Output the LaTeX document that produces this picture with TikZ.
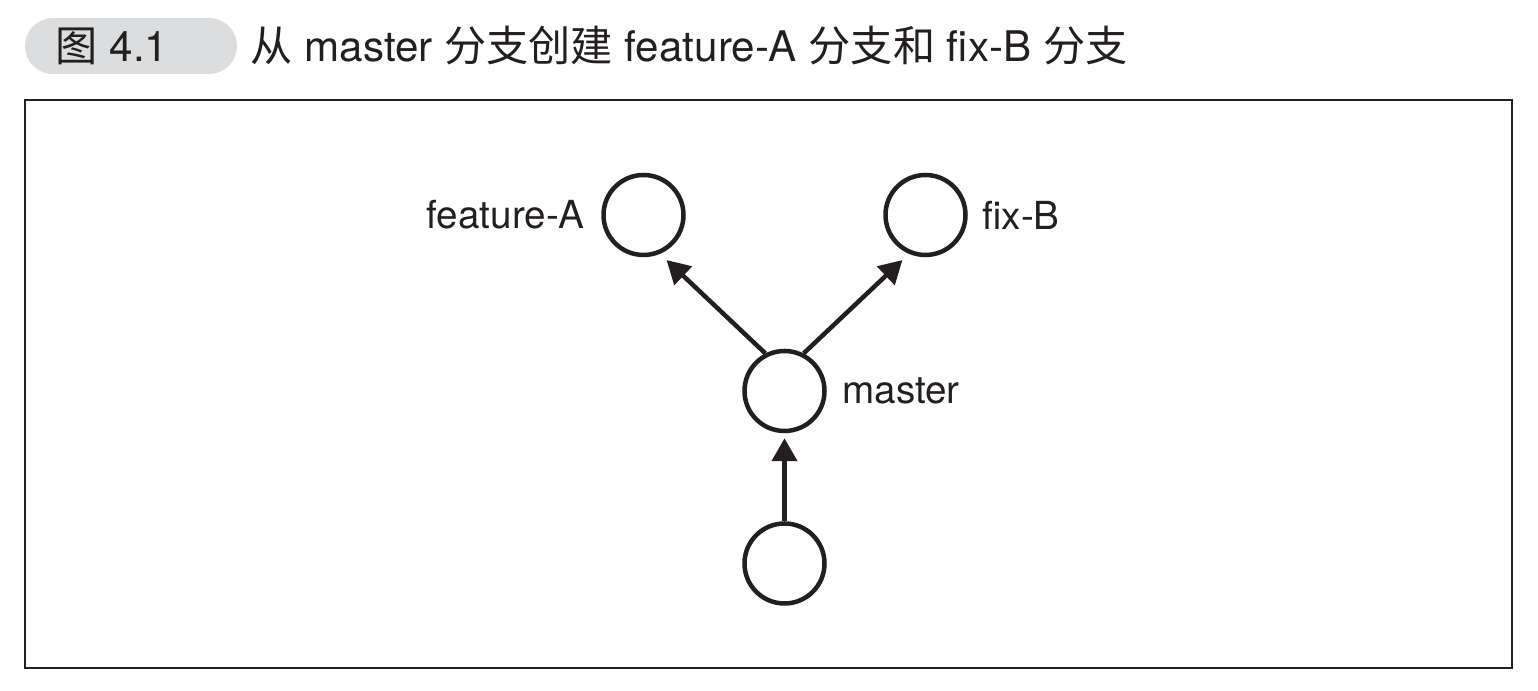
\documentclass[tikz,border=0pt]{standalone}
\usepackage{fontspec}
\setmainfont{TeX Gyre Heros}
\newfontfamily\cjk{Noto Sans CJK SC}
\usetikzlibrary{arrows.meta,positioning}
\definecolor{inkblack}{HTML}{231F20}
\definecolor{pillgray}{HTML}{DCDDDE}

\begin{document}
\begin{tikzpicture}[
    >={Triangle[length=0.23cm,width=0.25cm]},
    commit/.style={
        circle,
        draw=inkblack,
        line width=0.045cm,
        minimum size=0.80cm,
        inner sep=0pt
    },
    lbl/.style={
        inner sep=0pt,
        text=inkblack,
        font=\fontsize{11}{13}\selectfont
    },
    heading/.style={
        inner sep=0pt,
        anchor=base west,
        text=inkblack,
        font=\fontsize{12}{14}\selectfont
    },
    arr/.style={->, line width=0.045cm, draw=inkblack}
]
    \useasboundingbox (0,0) rectangle (15.38,-6.91);

    % caption
    \node[fill=pillgray, rounded corners=0.28cm, minimum width=2.12cm,
        minimum height=0.56cm, inner sep=0pt] (tag) at (1.31,-0.46) {};
    \node[heading] (tagtext) at (0.55,-0.62) {{\cjk 图} 4.1};
    \node[heading] (title) at (2.50,-0.62)
        {{\cjk 从} master {\cjk 分支创建} feature-A {\cjk 分支和} fix-B {\cjk 分支}};

    \draw[draw=inkblack, line width=0.6pt] (0.25,-1.00) rectangle (15.12,-6.68);

    % commits
    \node[commit] (base) at (7.845,-5.635) {};
    \node[commit] (master) at (7.845,-3.91) {};
    \node[commit] (featA) at (6.435,-2.15) {};
    \node[commit] (fixB) at (9.255,-2.15) {};

    \node[lbl, left=0.16cm of featA] (featAname) {feature-A};
    \node[lbl, right=0.14cm of fixB] (fixBname) {fix-B};
    \node[lbl, right=0.15cm of master] (mastername) {master};

    \draw[arr, shorten >=0.05cm] (base) -- (master);
    \draw[arr, shorten >=0.09cm] (master.117) -- (featA.-67);
    \draw[arr, shorten >=0.09cm] (master.63) -- (fixB.-113);
\end{tikzpicture}
\end{document}
